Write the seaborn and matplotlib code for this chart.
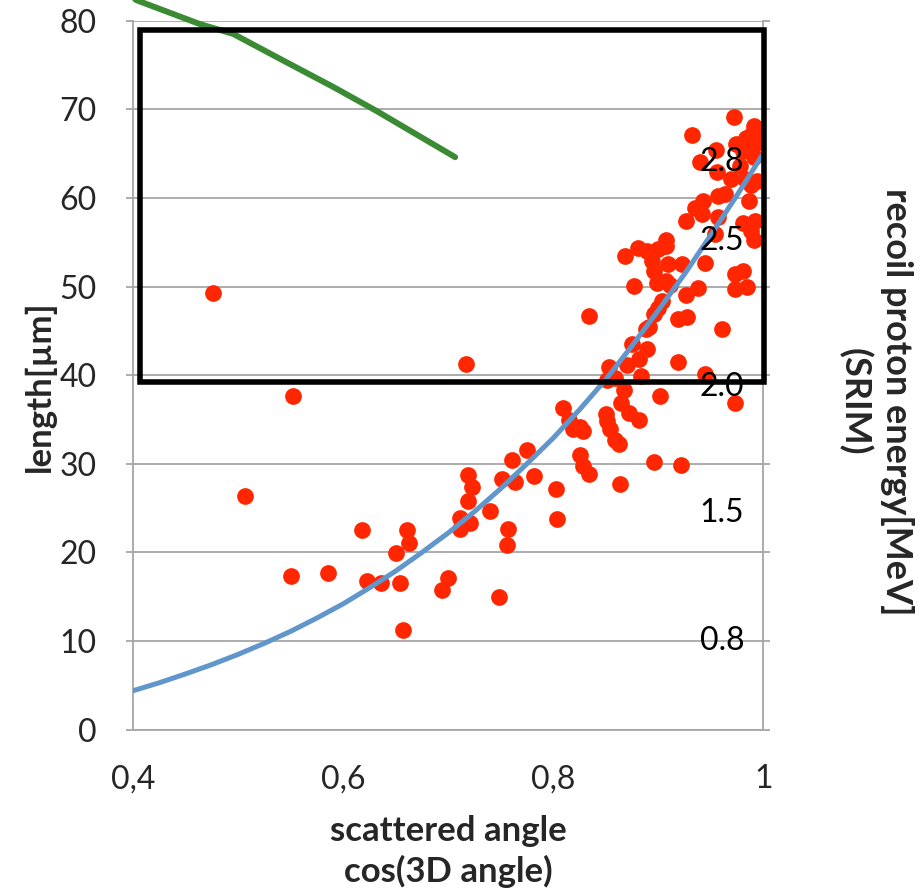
import matplotlib
matplotlib.use("Agg")
import matplotlib.pyplot as plt
import seaborn as sns
import pandas as pd
from matplotlib.patches import Rectangle

# ---------------- data ----------------
cos_angle = [
    0.476, 0.507, 0.550, 0.552, 0.586, 0.618, 0.623, 0.636, 0.650, 0.654,
    0.657, 0.661, 0.663, 0.694, 0.700, 0.711, 0.711, 0.717, 0.719, 0.719,
    0.721, 0.723, 0.740, 0.748, 0.751, 0.756, 0.757, 0.761, 0.764, 0.775,
    0.782, 0.803, 0.804, 0.809, 0.815, 0.819, 0.826, 0.828, 0.826, 0.828,
    0.834, 0.834, 0.850, 0.851, 0.854, 0.859, 0.863, 0.864, 0.851, 0.853,
    0.859, 0.865, 0.867, 0.872, 0.882, 0.884, 0.870, 0.882, 0.889, 0.875,
    0.888, 0.891, 0.896, 0.902, 0.922, 0.919, 0.945, 0.973, 0.896, 0.900,
    0.904, 0.919, 0.927, 0.877, 0.899, 0.907, 0.911, 0.926, 0.938, 0.961,
    0.868, 0.881, 0.889, 0.900, 0.907, 0.907, 0.894, 0.896, 0.909, 0.923,
    0.945, 0.973, 0.981, 0.973, 0.985, 0.981, 0.988, 0.991, 0.926, 0.954,
    0.957, 0.942, 0.935, 0.943, 0.957, 0.964, 0.986, 0.992, 0.988, 0.994,
    0.983, 0.969, 0.956, 0.978, 0.940, 0.991, 0.955, 0.981, 0.974, 0.992,
    0.984, 0.989, 0.994, 0.991, 0.932, 0.972,
]
length_um = [
    49.3, 26.4, 17.4, 37.7, 17.7, 22.5, 16.8, 16.6, 19.9, 16.5,
    11.2, 22.5, 21.1, 15.8, 17.1, 23.9, 22.6, 41.3, 28.7, 25.8,
    23.3, 27.4, 24.7, 15.0, 28.3, 20.8, 22.7, 30.4, 27.9, 31.6,
    28.6, 27.2, 23.8, 36.3, 34.9, 33.9, 34.2, 33.7, 31.0, 29.7,
    28.9, 46.7, 35.6, 34.8, 33.9, 32.7, 32.2, 27.7, 39.5, 40.9,
    39.7, 36.9, 38.3, 35.7, 34.9, 39.9, 41.2, 41.8, 42.9, 43.5,
    45.2, 45.4, 30.2, 37.6, 29.9, 41.5, 40.1, 36.9, 46.9, 47.6,
    48.4, 46.3, 46.6, 50.1, 50.4, 50.6, 50.2, 49.1, 49.8, 45.2,
    53.4, 54.3, 54.0, 54.2, 55.3, 54.6, 52.9, 51.8, 52.6, 52.5,
    52.7, 51.4, 51.8, 49.7, 50.0, 57.2, 56.3, 55.3, 57.4, 55.9,
    57.8, 58.2, 58.9, 59.7, 60.2, 60.4, 59.7, 57.4, 61.5, 61.9,
    62.1, 62.1, 62.9, 63.6, 64.0, 64.6, 65.4, 65.3, 66.1, 66.1,
    66.8, 67.2, 67.6, 68.1, 67.1, 69.1,
]

fit_x = [0.400, 0.425, 0.450, 0.475, 0.500, 0.525, 0.550, 0.575, 0.600,
         0.625, 0.650, 0.675, 0.700, 0.725, 0.750, 0.775, 0.800, 0.825,
         0.850, 0.875, 0.900, 0.925, 0.950, 0.975, 1.000]
fit_y = [4.4, 5.3, 6.3, 7.35, 8.5, 9.75, 11.1, 12.6, 14.2,
         16.0, 17.9, 20.0, 22.2, 24.6, 27.2, 30.0, 32.9, 36.1,
         39.5, 43.3, 47.3, 51.4, 55.8, 60.3, 65.0]

green_x = [0.400, 0.4035, 0.464, 0.4955, 0.543, 0.591, 0.632, 0.7067]
green_y = [82.6, 82.3, 79.6, 78.5, 75.5, 72.5, 69.8, 64.6]

energy_labels = ["2.8", "2.5", "2.0", "1.5", "0.8"]
energy_label_y = [64.0, 55.1, 38.7, 24.4, 10.0]

x_ticks = [0.4, 0.6, 0.8, 1.0]
x_tick_labels = ["0,4", "0,6", "0,8", "1"]
y_ticks = [0, 10, 20, 30, 40, 50, 60, 70, 80]

box = [0.4063, 39.2, 1.001, 78.9]  # x0, y0, x1, y1

# ---------------- style ----------------
sns.set_style("white")
plt.rcParams["font.family"] = ["Lato", "DejaVu Sans"]

GRID = "#A6A6A6"
RED = "#FF2600"
BLUE = "#6096CC"
GREEN = "#3A8B34"

fig = plt.figure(figsize=(9.24, 8.91), dpi=100)
ax = fig.add_axes([0.144, 0.181, 0.682, 0.7958])

scatter_df = pd.DataFrame({"cos": cos_angle, "length": length_um})
sns.scatterplot(data=scatter_df, x="cos", y="length", ax=ax, s=145,
                color=RED, linewidth=0, zorder=3)

fit_df = pd.DataFrame({"x": fit_x, "y": fit_y})
sns.lineplot(data=fit_df, x="x", y="y", ax=ax, color=BLUE, lw=3.6, zorder=4)

green_df = pd.DataFrame({"x": green_x, "y": green_y})
sns.lineplot(data=green_df, x="x", y="y", ax=ax, color=GREEN, lw=4.3,
             zorder=5, sort=False)
ax.lines[-1].set_clip_on(False)

rect = Rectangle((box[0], box[1]), box[2] - box[0], box[3] - box[1],
                 fill=False, edgecolor="black", lw=4.0, zorder=6,
                 clip_on=False, joinstyle="miter")
ax.add_patch(rect)

for lab, yv in zip(energy_labels, energy_label_y):
    ax.text(0.9607, yv, lab, ha="center", va="center", fontsize=23,
            color="black", zorder=7)

ax.set_xlim(0.4, 1.0)
ax.set_ylim(0, 80)
ax.set_xticks(x_ticks)
ax.set_xticklabels(x_tick_labels)
ax.set_yticks(y_ticks)

ax.yaxis.grid(True, color=GRID, lw=1.3, zorder=0)
ax.xaxis.grid(False)
ax.set_axisbelow(True)

for side in ["left", "bottom", "right"]:
    ax.spines[side].set_color(GRID)
    ax.spines[side].set_linewidth(1.3)
ax.spines["top"].set_visible(False)

ax.tick_params(axis="x", length=0, pad=25, labelsize=23)
ax.tick_params(axis="y", which="both", left=True, right=True, labelright=False,
               length=5, color=GRID, width=1.3, pad=21, labelsize=23,
               direction="out")

ax.set_xlabel("scattered angle\ncos(3D angle)", fontsize=25, fontweight="bold",
              linespacing=1.3)
ax.xaxis.set_label_coords(0.5, -0.12)
ax.xaxis.label.set_va("top")

ax.set_ylabel("length[µm]", fontsize=25, fontweight="bold")
ax.yaxis.set_label_coords(-0.148, 0.485)
ax.yaxis.label.set_va("center")

fig.text(0.948, 0.549, "recoil proton energy[MeV]\n(SRIM)", rotation=270,
         ha="center", va="center", fontsize=26, fontweight="bold",
         multialignment="center", linespacing=1.3)

fig.savefig("out.png", dpi=100)
